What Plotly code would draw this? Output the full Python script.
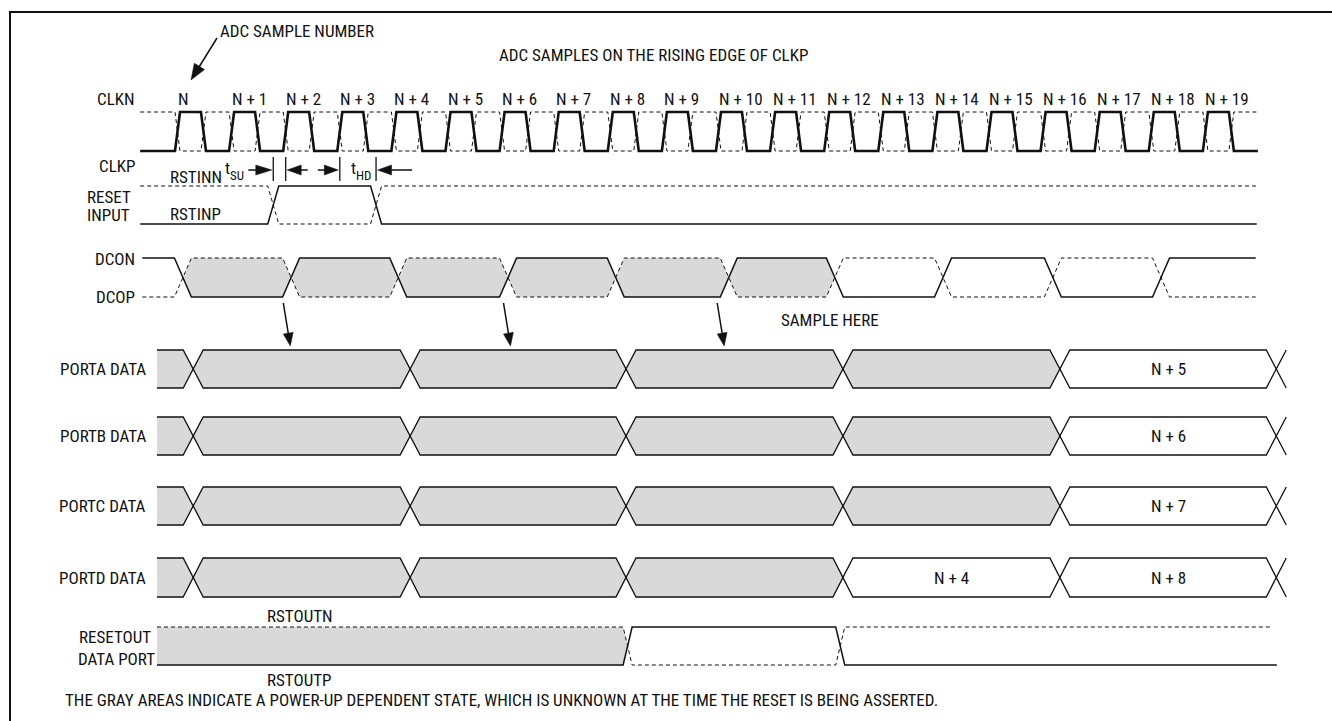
import math
import plotly.graph_objects as go

W, H = 1332, 721

# ---------------- data (times in clock cycles; t = 0 is the rising edge of CLKN for sample N)
SAMPLE_LABELS = ["N", "N + 1", "N + 2", "N + 3", "N + 4", "N + 5", "N + 6", "N + 7",
                 "N + 8", "N + 9", "N + 10", "N + 11", "N + 12", "N + 13", "N + 14",
                 "N + 15", "N + 16", "N + 17", "N + 18", "N + 19"]
CLK_RISE_T = [0, 1, 2, 3, 4, 5, 6, 7, 8, 9, 10, 11, 12, 13, 14, 15, 16, 17, 18, 19]
CLK_FALL_T = [0.48, 1.48, 2.48, 3.48, 4.48, 5.48, 6.48, 7.48, 8.48, 9.48,
              10.48, 11.48, 12.48, 13.48, 14.48, 15.48, 16.48, 17.48, 18.48, 19.48]
CLK_SPAN_T = [-0.69, 19.97]

RESET_EDGES_T = [1.77, 3.67]
RESET_SPAN_T = [-0.69, 19.95]

DCO_EDGES_T = [0.10, 2.10, 4.08, 6.11, 8.10, 10.19, 12.15, 14.15, 16.18, 18.18]
DCO_SEGMENT_GRAY = [False, True, True, True, True, True, True, False, False, False, False]
DCO_SPAN_T = [-0.65, 19.93]

PORT_EDGES_T = [0.29, 4.30, 8.29, 12.30, 16.31, 20.31]
PORT_START_T = -0.38
PORT_NAMES = ["PORTA DATA", "PORTB DATA", "PORTC DATA", "PORTD DATA"]
PORTA_GRAY = [True, True, True, True, True, False]
PORTB_GRAY = [True, True, True, True, True, False]
PORTC_GRAY = [True, True, True, True, True, False]
PORTD_GRAY = [True, True, True, True, False, False]
PORTA_TEXT = ["", "", "", "", "", "N + 5"]
PORTB_TEXT = ["", "", "", "", "", "N + 6"]
PORTC_TEXT = ["", "", "", "", "", "N + 7"]
PORTD_TEXT = ["", "", "", "", "N + 4", "N + 8"]

RESETOUT_EDGES_T = [8.32, 12.25]
RESETOUT_GRAY = [True, False, False]
RESETOUT_SPAN_T = [-0.38, 20.32]

TSU_MARKS_T = [1.77, 2.0]     # reset rise .. CLK rising edge N+2
THD_MARKS_T = [3.0, 3.67]     # CLK rising edge N+3 .. reset fall
SAMPLE_ARROW_T = [2.03, 6.10, 10.05]

# ---------------- layout constants (pixels)
X0_PX = 177.5
PX_PER_CYCLE = 54.1
GRAY = "#d9d9d9"
INK = "#111111"
FONT = "Liberation Sans Narrow, Arial Narrow, Roboto Condensed, DejaVu Sans Condensed, sans-serif"
FS = 17
DASH = "4px,3px"


def tx(px):
    return (px - X0_PX) / PX_PER_CYCLE


def t2px(t):
    return X0_PX + t * PX_PER_CYCLE


ROWS = {
    "clk": (112, 151),
    "reset": (186, 224),
    "dco": (258, 297),
    "porta": (350, 388),
    "portb": (417, 455),
    "portc": (487, 525),
    "portd": (558, 597),
    "rstout": (627, 665),
}

fig = go.Figure()
shapes = []
annotations = []


def wave(start_high, edges, hw, t0, t1, top, bot):
    lvl = start_high
    xs, ys = [t0], [top if lvl else bot]
    for e in edges:
        if e - hw >= t1:
            break
        xs += [e - hw, e + hw]
        ys += [top if lvl else bot, bot if lvl else top]
        lvl = not lvl
    if xs[-1] < t1:
        xs.append(t1)
        ys.append(top if lvl else bot)
    return xs, ys


def add_line(xs, ys, width, dash=None):
    fig.add_trace(go.Scatter(x=xs, y=ys, mode="lines",
                             line=dict(color=INK, width=width, dash=dash),
                             hoverinfo="skip", showlegend=False))


def add_fill(xs, ys):
    fig.add_trace(go.Scatter(x=xs, y=ys, mode="lines", fill="toself", fillcolor=GRAY,
                             line=dict(width=0, color=GRAY), hoverinfo="skip", showlegend=False))


def seg_fills(edges, gray, hw, t_start, top, bot, t_end=None):
    mid = (top + bot) / 2
    bounds = [None] + list(edges) + [None]
    for i, g in enumerate(gray):
        a, b = bounds[i], bounds[i + 1]
        if not g:
            continue
        xs, ys = [], []
        if a is None:
            xs += [t_start, t_start]
            ys += [bot, top]
        else:
            xs += [a, a + hw]
            ys += [mid, top]
        if b is None:
            xs += [t_end, t_end]
            ys += [top, bot]
        else:
            xs += [b - hw, b, b - hw]
            ys += [top, mid, bot]
        if a is not None:
            xs += [a + hw]
            ys += [bot]
        xs.append(xs[0])
        ys.append(ys[0])
        add_fill(xs, ys)


def seg_texts(edges, texts, top, bot):
    mid = (top + bot) / 2
    for i, s in enumerate(texts):
        if not s:
            continue
        a, b = edges[i - 1], edges[i]
        annotations.append(dict(x=(a + b) / 2, y=mid, xref="x", yref="y", text=s,
                                showarrow=False, font=dict(family=FONT, size=FS, color=INK)))


def label(px, py, s, anchor="left", size=FS):
    annotations.append(dict(x=tx(px), y=py, xref="x", yref="y", text=s, showarrow=False,
                            xanchor=anchor, yanchor="middle",
                            font=dict(family=FONT, size=size, color=INK)))


def arrow(x0, y0, x1, y1, head_len, head_w, width=1.5):
    # pixel coordinates: tail (x0,y0) -> tip (x1,y1)
    dx, dy = x1 - x0, y1 - y0
    L = math.hypot(dx, dy)
    ux, uy = dx / L, dy / L
    bx, by = x1 - ux * head_len, y1 - uy * head_len
    px_, py_ = -uy * head_w / 2, ux * head_w / 2
    shapes.append(dict(type="line", xref="x", yref="y", x0=tx(x0), y0=y0, x1=tx(bx + ux), y1=by + uy,
                       line=dict(color=INK, width=width)))
    path = "M {} {} L {} {} L {} {} Z".format(tx(x1), y1, tx(bx + px_), by + py_, tx(bx - px_), by - py_)
    shapes.append(dict(type="path", xref="x", yref="y", path=path, fillcolor=INK,
                       line=dict(color=INK, width=0.5)))


# ---------------- clock
ct, cb = ROWS["clk"]
clk_edges = sorted(CLK_RISE_T + CLK_FALL_T)
hw_clk = 2.5 / PX_PER_CYCLE
xs, ys = wave(True, clk_edges, hw_clk, CLK_SPAN_T[0], CLK_SPAN_T[1], ct, cb)
add_line(xs, ys, 1, DASH)
xs, ys = wave(False, clk_edges, hw_clk, CLK_SPAN_T[0], CLK_SPAN_T[1], ct, cb)
add_line(xs, ys, 2.6)
for lab, tr in zip(SAMPLE_LABELS, CLK_RISE_T):
    annotations.append(dict(x=tr - 2 / PX_PER_CYCLE, y=99, xref="x", yref="y", text=lab,
                            showarrow=False, xanchor="left", yanchor="middle",
                            font=dict(family=FONT, size=FS, color=INK)))

# ---------------- reset input
rt, rb = ROWS["reset"]
hw_r = 5.5 / PX_PER_CYCLE
xs, ys = wave(True, RESET_EDGES_T, hw_r, RESET_SPAN_T[0], RESET_SPAN_T[1], rt, rb)
add_line(xs, ys, 1, DASH)
xs, ys = wave(False, RESET_EDGES_T, hw_r, RESET_SPAN_T[0], RESET_SPAN_T[1], rt, rb)
add_line(xs, ys, 1.5)

# ---------------- DCO
dt, db = ROWS["dco"]
hw_d = 8.5 / PX_PER_CYCLE
seg_fills(DCO_EDGES_T, DCO_SEGMENT_GRAY, hw_d, DCO_SPAN_T[0], dt, db, DCO_SPAN_T[1])
xs, ys = wave(False, DCO_EDGES_T, hw_d, DCO_SPAN_T[0], DCO_SPAN_T[1], dt, db)
add_line(xs, ys, 1, DASH)
xs, ys = wave(True, DCO_EDGES_T, hw_d, DCO_SPAN_T[0], DCO_SPAN_T[1], dt, db)
add_line(xs, ys, 1.5)

# ---------------- ports
hw_p = 10 / PX_PER_CYCLE
port_rows = [("porta", PORTA_GRAY, PORTA_TEXT), ("portb", PORTB_GRAY, PORTB_TEXT),
             ("portc", PORTC_GRAY, PORTC_TEXT), ("portd", PORTD_GRAY, PORTD_TEXT)]
for name, (key, gray, texts) in zip(PORT_NAMES, port_rows):
    pt, pb = ROWS[key]
    t_end = PORT_EDGES_T[-1] + hw_p
    seg_fills(PORT_EDGES_T, gray, hw_p, PORT_START_T, pt, pb)
    for start in (True, False):
        xs, ys = wave(start, PORT_EDGES_T, hw_p, PORT_START_T, t_end, pt, pb)
        add_line(xs, ys, 1.3)
    seg_texts(PORT_EDGES_T, texts, pt, pb)
    label(148, (pt + pb) / 2, name, anchor="right")

# ---------------- reset out
ot, ob = ROWS["rstout"]
hw_o = 4.5 / PX_PER_CYCLE
seg_fills(RESETOUT_EDGES_T, RESETOUT_GRAY, hw_o, RESETOUT_SPAN_T[0], ot, ob)
xs, ys = wave(True, RESETOUT_EDGES_T, hw_o, RESETOUT_SPAN_T[0], RESETOUT_SPAN_T[1] - 4 / PX_PER_CYCLE, ot, ob)
add_line(xs, ys, 1, DASH)
xs, ys = wave(False, RESETOUT_EDGES_T, hw_o, RESETOUT_SPAN_T[0], RESETOUT_SPAN_T[1], ot, ob)
add_line(xs, ys, 1.5)

# ---------------- timing marks (tSU / tHD)
for t in TSU_MARKS_T + THD_MARKS_T:
    shapes.append(dict(type="line", xref="x", yref="y", x0=t, x1=t, y0=157, y1=181,
                       line=dict(color=INK, width=1.3)))
tsu_a, tsu_b = [t2px(t) for t in TSU_MARKS_T]
thd_a, thd_b = [t2px(t) for t in THD_MARKS_T]
arrow(tsu_a - 25, 170, tsu_a - 1.5, 170, 16, 10)
arrow(tsu_b + 22, 170, tsu_b + 1.5, 170, 14, 10)
arrow(thd_a - 22, 170, thd_a - 1.5, 170, 14, 10)
arrow(thd_b + 36, 170, thd_b + 1.5, 170, 14, 10)
# "t" with subscript, drawn as two texts
label(tsu_a - 50, 168, "t")
label(tsu_a - 45, 175, "SU", size=13)
label(thd_a + 9, 168, "t")
label(thd_a + 14, 175, "HD", size=13)

# ---------------- sample arrows from DCO to PORTA
for t in SAMPLE_ARROW_T:
    x = t2px(t)
    arrow(x - 4, 303, x + 3, 346, 13, 10)

# ADC sample number arrow
arrow(217, 38, 191, 80, 16, 12)

# ---------------- text labels
label(218, 31, "ADC SAMPLE NUMBER")
label(497, 55, "ADC SAMPLES ON THE RISING EDGE OF CLKP")
label(137, 99, "CLKN", anchor="right")
label(137, 166, "CLKP", anchor="right")
label(168, 177, "RSTINN")
label(85, 197, "RESET")
label(85, 215, "INPUT")
label(168, 214, "RSTINP")
label(137, 259, "DCON", anchor="right")
label(137, 297, "DCOP", anchor="right")
label(779, 320, "SAMPLE HERE")
label(265, 616, "RSTOUTN")
label(265, 680, "RSTOUTP")
label(77, 637, "RESETOUT")
label(76, 659, "DATA PORT")
label(63, 700, "THE GRAY AREAS INDICATE A POWER-UP DEPENDENT STATE, WHICH IS UNKNOWN AT THE TIME THE RESET IS BEING ASSERTED.")

# frame (left and top edges; the right and bottom edges lie outside the picture)
shapes.append(dict(type="line", xref="paper", yref="paper", x0=10 / W, x1=10 / W,
                   y0=0, y1=1 - 11 / H, line=dict(color=INK, width=2)))
shapes.append(dict(type="line", xref="paper", yref="paper", x0=9 / W, x1=1,
                   y0=1 - 12 / H, y1=1 - 12 / H, line=dict(color=INK, width=2)))

fig.update_layout(
    width=W, height=H, margin=dict(l=0, r=0, t=0, b=0),
    paper_bgcolor="white", plot_bgcolor="white",
    xaxis=dict(range=[tx(0), tx(W)], visible=False, fixedrange=True),
    yaxis=dict(range=[H, 0], visible=False, fixedrange=True),
    shapes=shapes, annotations=annotations, showlegend=False, hovermode=False,
)
fig.write_html("out.html", config={"displayModeBar": False},
               post_script="document.body.style.margin='0';document.body.style.padding='0';"
                           "document.body.style.overflow='hidden';")
